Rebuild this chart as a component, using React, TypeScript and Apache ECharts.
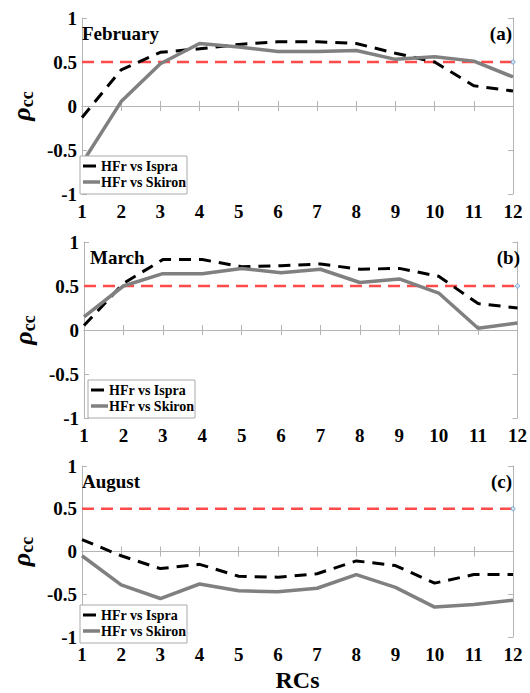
import React, { useEffect, useRef } from "react";
import * as echarts from "echarts";

const rcs = [1, 2, 3, 4, 5, 6, 7, 8, 9, 10, 11, 12];
const xTicks = ["1", "2", "3", "4", "5", "6", "7", "8", "9", "10", "11", "12"];
const yTicks = [-1, -0.5, 0, 0.5, 1];
const months = ["February", "March", "August"];
const panelTags = ["(a)", "(b)", "(c)"];
const seriesNames = ["HFr vs Ispra", "HFr vs Skiron"];
const threshold = 0.5;

const febIspra = [-0.13, 0.41, 0.61, 0.65, 0.7, 0.73, 0.73, 0.71, 0.6, 0.5, 0.23, 0.17];
const febSkiron = [-0.65, 0.05, 0.48, 0.71, 0.67, 0.62, 0.62, 0.63, 0.53, 0.56, 0.51, 0.33];
const marIspra = [0.05, 0.53, 0.8, 0.8, 0.72, 0.73, 0.75, 0.69, 0.7, 0.61, 0.3, 0.25];
const marSkiron = [0.15, 0.5, 0.64, 0.64, 0.7, 0.65, 0.69, 0.54, 0.58, 0.42, 0.02, 0.08];
const augIspra = [0.14, -0.05, -0.2, -0.15, -0.29, -0.3, -0.26, -0.11, -0.165, -0.37, -0.27, -0.27];
const augSkiron = [-0.05, -0.39, -0.55, -0.38, -0.46, -0.47, -0.43, -0.27, -0.42, -0.65, -0.62, -0.57];

const ispraSets = [febIspra, marIspra, augIspra];
const skironSets = [febSkiron, marSkiron, augSkiron];

const FONT = "Liberation Serif";
const AXIS_COLOR = "#b4b4b4";

const grids = [
  { left: 76, top: 18, width: 437, height: 176 },
  { left: 84, top: 242, width: 437, height: 176 },
  { left: 76, top: 466, width: 437, height: 177 },
];

function pairs(vals: number[]) {
  return rcs.map((x, i) => [x, vals[i]]);
}

export default function App() {
  const ref = useRef<HTMLDivElement>(null);
  useEffect(() => {
    if (!ref.current) return;
    const chart = echarts.init(ref.current, null, { renderer: "svg" });

    const xAxes: any[] = [];
    const yAxes: any[] = [];
    const series: any[] = [];
    const graphics: any[] = [];

    grids.forEach((g, k) => {
      const base = {
        gridIndex: k,
        type: "value",
        axisLine: { show: true, lineStyle: { color: AXIS_COLOR, width: 1 } },
        axisTick: { show: true, inside: true, length: 5, lineStyle: { color: AXIS_COLOR } },
        splitLine: { show: false },
      };
      xAxes.push({
        ...base,
        position: "bottom",
        min: 1,
        max: 12,
        interval: 1,
        axisLabel: {
          show: true,
          color: "#000",
          fontFamily: FONT,
          fontWeight: "bold",
          fontSize: 19,
          margin: 8,
          formatter: (v: number) => xTicks[rcs.indexOf(v)] ?? "",
        },
        name: k === 2 ? "RCs" : "",
        nameLocation: "middle",
        nameGap: 31,
        nameTextStyle: { color: "#000", fontFamily: FONT, fontWeight: "bold", fontSize: 24 },
      });
      xAxes.push({
        ...base,
        position: "top",
        min: 1,
        max: 12,
        interval: 1,
        axisLabel: { show: false },
      });
      yAxes.push({
        ...base,
        position: "left",
        min: yTicks[0],
        max: yTicks[yTicks.length - 1],
        interval: 0.5,
        axisLabel: {
          show: true,
          color: "#000",
          fontFamily: FONT,
          fontWeight: "bold",
          fontSize: 19,
          margin: 5,
        },
        name: "{r|ρ}{s|cc}",
        nameLocation: "middle",
        nameRotate: 90,
        nameGap: 40,
        nameTextStyle: {
          color: "#000",
          fontFamily: FONT,
          rich: {
            r: { fontSize: 26, fontStyle: "italic", fontWeight: "bold", fontFamily: FONT, color: "#000" },
            s: {
              fontSize: 18,
              fontWeight: "bold",
              fontFamily: FONT,
              color: "#000",
              verticalAlign: "bottom",
              padding: [12, 0, 0, 0],
            },
          },
        },
      });
      yAxes.push({
        ...base,
        position: "right",
        min: -1,
        max: 1,
        interval: 0.5,
        axisLabel: { show: false },
      });

      const xi = k * 2;
      const yi = k * 2;
      series.push({
        type: "line",
        name: "threshold",
        xAxisIndex: xi,
        yAxisIndex: yi,
        data: [
          [rcs[0], threshold],
          [rcs[rcs.length - 1], threshold],
        ],
        symbol: "none",
        lineStyle: { color: "#ff4a4a", width: 2.6, type: [12, 7] },
        z: 2,
      });
      series.push({
        type: "scatter",
        name: "end",
        xAxisIndex: xi,
        yAxisIndex: yi,
        data: [[rcs[rcs.length - 1], threshold]],
        symbol: "circle",
        symbolSize: 4,
        itemStyle: { color: "#dceaf7", borderColor: "#5b9bd5", borderWidth: 1 },
        z: 5,
      });
      series.push({
        type: "line",
        name: seriesNames[0],
        xAxisIndex: xi,
        yAxisIndex: yi,
        data: pairs(ispraSets[k]),
        symbol: "none",
        lineStyle: { color: "#000", width: 3, type: [12, 8] },
        z: 3,
      });
      series.push({
        type: "line",
        name: seriesNames[1],
        xAxisIndex: xi,
        yAxisIndex: yi,
        data: pairs(skironSets[k]),
        symbol: "none",
        lineStyle: { color: "#808080", width: 3.5 },
        z: 4,
      });

      graphics.push({
        type: "text",
        x: g.left + 6,
        y: g.top + 15,
        style: { text: months[k], font: `bold 19px ${FONT}`, fill: "#000", align: "left", verticalAlign: "middle" },
        z: 10,
      });
      graphics.push({
        type: "text",
        x: g.left + g.width - 1,
        y: g.top + 15,
        style: { text: panelTags[k], font: `bold 19px ${FONT}`, fill: "#000", align: "right", verticalAlign: "middle" },
        z: 10,
      });

      const bx = g.left + 4;
      const bh = 38;
      const by = g.top + g.height - bh;
      graphics.push({
        type: "rect",
        shape: { x: bx, y: by, width: 107, height: bh },
        style: { fill: "#fff", stroke: "#aaaaaa", lineWidth: 1 },
        z: 20,
      });
      graphics.push({
        type: "line",
        shape: { x1: bx + 3, y1: by + 10, x2: bx + 16, y2: by + 10 },
        style: { stroke: "#000", lineWidth: 3 },
        z: 21,
      });
      graphics.push({
        type: "line",
        shape: { x1: bx + 3, y1: by + 26, x2: bx + 20, y2: by + 26 },
        style: { stroke: "#808080", lineWidth: 3.5 },
        z: 21,
      });
      graphics.push({
        type: "text",
        x: bx + 21,
        y: by + 10,
        style: { text: seriesNames[0], font: `bold 14px ${FONT}`, fill: "#000", align: "left", verticalAlign: "middle" },
        z: 21,
      });
      graphics.push({
        type: "text",
        x: bx + 21,
        y: by + 26,
        style: { text: seriesNames[1], font: `bold 14px ${FONT}`, fill: "#000", align: "left", verticalAlign: "middle" },
        z: 21,
      });
    });

    chart.setOption({
      animation: false,
      backgroundColor: "#fff",
      textStyle: { fontFamily: FONT },
      grid: grids.map((g) => ({ ...g, containLabel: false })),
      xAxis: xAxes,
      yAxis: yAxes,
      series,
      graphic: graphics,
    });
    return () => chart.dispose();
  }, []);

  return (
    <div
      ref={ref}
      style={{ position: "fixed", left: 0, top: 0, width: 530, height: 693, background: "#fff" }}
    />
  );
}
